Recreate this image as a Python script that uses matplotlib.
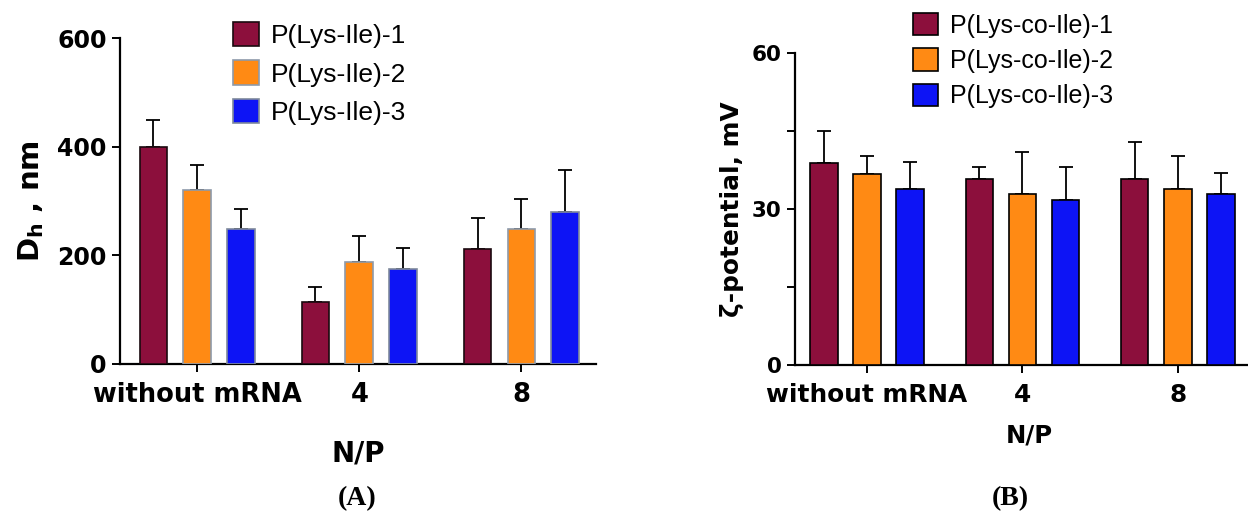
import numpy as np
import matplotlib.pyplot as plt
from matplotlib.ticker import MultipleLocator

# N/P groups
groups = ['without mRNA', '4', '8']

# Panel A: hydrodynamic diameter, nm (mean and upper SD)
dh_labels = ['P(Lys-Ile)-1', 'P(Lys-Ile)-2', 'P(Lys-Ile)-3']
dh_mean = [[400, 114, 211],
           [320, 188, 248],
           [248, 174, 279]]
dh_sd = [[49, 27, 58],
         [46, 48, 56],
         [37, 40, 78]]

# Panel B: zeta potential, mV
zeta_labels = ['P(Lys-co-Ile)-1', 'P(Lys-co-Ile)-2', 'P(Lys-co-Ile)-3']
zeta_mean = [[38.9, 35.8, 35.8],
             [36.7, 32.8, 33.8],
             [33.8, 31.8, 32.8]]
zeta_sd = [[6.1, 2.3, 7.1],
           [3.4, 8.2, 6.3],
           [5.2, 6.3, 4.1]]

colors = ['#8c0f3c', '#ff8a14', '#0d14f5']
edges_a = ['#1a0a0f', '#8e9aaa', '#7f8a9c']

plt.rcParams['mathtext.fontset'] = 'dejavusans'

fig = plt.figure(figsize=(12.48, 5.22), dpi=100)
axA = fig.add_axes([0.0962, 0.3027, 0.3814, 0.6245])
axB = fig.add_axes([0.637, 0.3008, 0.3754, 0.5977])

x = np.arange(len(groups))


def draw_bars(ax, means, sds, labels, edges, width, step):
    for i in range(3):
        pos = x + (i - 1) * step
        ax.bar(pos, means[i], width, color=colors[i], edgecolor=edges[i],
               linewidth=1.2, label=labels[i], zorder=3)
        ax.errorbar(pos, means[i], yerr=[np.zeros(3), sds[i]], fmt='none',
                    ecolor='black', elinewidth=1.3, capsize=5, capthick=1.3,
                    zorder=2)
    for s in ['top', 'right']:
        ax.spines[s].set_visible(False)
    for s in ['left', 'bottom']:
        ax.spines[s].set_linewidth(1.6)
    ax.set_xticks(x)
    ax.tick_params(width=1.4, length=6)
    ax.tick_params(axis='x', pad=7)


# Panel A
draw_bars(axA, dh_mean, dh_sd, dh_labels, edges_a, 0.17, 0.27)
axA.set_xlim(-0.475, 2.46)
axA.set_ylim(0, 600)
axA.set_yticks([0, 200, 400, 600])
axA.set_yticklabels(['0', '200', '400', '600'], fontsize=17, fontweight='bold')
axA.set_xticklabels(groups, fontsize=18.5, fontweight='bold')
axA.set_xlabel('N/P', fontsize=20, fontweight='bold', labelpad=23)
axA.set_ylabel(r'$\mathbf{D_h}$ , nm', fontsize=21, fontweight='bold', labelpad=8)
axA.legend(loc='upper left', bbox_to_anchor=(233 / 1248, 1 - 22 / 522),
           bbox_transform=fig.transFigure, frameon=False,
           prop={'family': 'Liberation Sans', 'size': 19},
           handlelength=1.0, handleheight=1.05, handletextpad=0.42,
           labelspacing=0.46, borderpad=0, borderaxespad=0)

# Panel B
draw_bars(axB, zeta_mean, zeta_sd, zeta_labels, ['black'] * 3, 0.175, 0.277)
axB.set_xlim(-0.463, 2.55)
axB.set_ylim(0, 60)
axB.set_yticks([0, 30, 60])
axB.yaxis.set_minor_locator(MultipleLocator(15))
axB.tick_params(which='minor', width=1.4, length=6)
axB.set_yticklabels(['0', '30', '60'], fontsize=15.5, fontweight='bold')
axB.set_xticklabels(groups, fontsize=17.8, fontweight='bold')
axB.set_xlabel('N/P', fontsize=17.5, fontweight='bold', labelpad=12)
axB.set_ylabel('ζ-potential, mV', fontsize=17.8, fontweight='bold', labelpad=6)
axB.legend(loc='upper left', bbox_to_anchor=(913 / 1248, 1 - 13 / 522),
           bbox_transform=fig.transFigure, frameon=False,
           prop={'family': 'Liberation Sans', 'size': 18},
           handlelength=1.0, handleheight=1.0, handletextpad=0.48,
           labelspacing=0.42, borderpad=0, borderaxespad=0)

# panel captions
fig.text(357 / 1248, 1 - 499 / 522, '(A)', ha='center', va='center',
         fontsize=20, fontfamily='Liberation Serif', fontweight='bold')
fig.text(1010 / 1248, 1 - 499 / 522, '(B)', ha='center', va='center',
         fontsize=20, fontfamily='Liberation Serif', fontweight='bold')

fig.savefig('out.png', dpi=100)
plt.close()
